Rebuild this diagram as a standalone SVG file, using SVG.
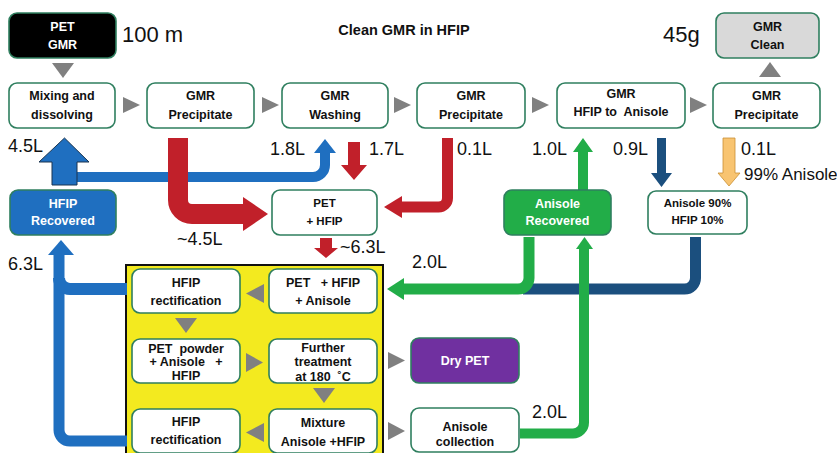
<svg xmlns="http://www.w3.org/2000/svg" width="837" height="453" viewBox="0 0 837 453">
<style>
.box{fill:#fff;stroke:#2f7f5f;stroke-width:1.6}
.t{font-family:"Liberation Sans",Arial,sans-serif;font-weight:bold;font-size:12.5px;text-anchor:middle;fill:#111}
.w{fill:#fff}
.lab{font-family:"Liberation Sans",Arial,sans-serif;font-size:18px;fill:#111}
.tri{fill:#808080}
.red{fill:#c1202a}
.blue{fill:#1f6fc0}
</style>
<rect width="837" height="453" fill="#fff"/>

<text x="404" y="35" class="t" style="font-size:14.5px">Clean GMR in HFIP</text>
<text x="122" y="42" class="lab" style="font-size:22px">100 m</text>
<text x="663" y="42" class="lab" style="font-size:22px">45g</text>

<!-- yellow panel -->
<rect id="panel" x="126" y="265" width="257" height="200" fill="#f3ea1f" stroke="#111" stroke-width="2"/>

<!-- connectors -->
<g id="connectors">
  <polygon class="tri" points="52,63 74,63 63,78"/>
  <polygon class="tri" points="123,97 123,113 140,105"/>
  <polygon class="tri" points="262,97 262,113 279,105"/>
  <polygon class="tri" points="394,97 394,113 411,105"/>
  <polygon class="tri" points="532,97 532,113 549,105"/>
  <polygon class="tri" points="690,97 690,113 707,105"/>
  <polygon class="tri" points="759,77 781,77 770,62"/>
  <polygon class="tri" points="264,284 264,303 246,293.5"/>
  <polygon class="tri" points="175,318 197,318 186,333"/>
  <polygon class="tri" points="246,353 246,372 263,362.5"/>
  <polygon class="tri" points="313,388 335,388 324,403"/>
  <polygon class="tri" points="264,423 264,442 246,432.5"/>
  <polygon class="tri" points="388,352 388,369 405,360.5"/>
  <polygon class="tri" points="388,422 388,440 405,431"/>

  <!-- blue HFIP recovered -> mixing and washing -->
  <path d="M77,177 H313 A12 12 0 0 0 325 165 V151" fill="none" stroke="#1f6fc0" stroke-width="10"/>
  <polygon class="blue" points="314,153 325,139 336,153"/>
  <polygon class="blue" stroke="#1b3550" stroke-width="1" points="52,185 52,162 39,162 64.5,138 89,162 77,162 77,185"/>

  <!-- red big arrow -->
  <path d="M178,138 V200 A14 14 0 0 0 192 214 H245" fill="none" stroke="#c1202a" stroke-width="20"/>
  <polygon class="red" points="243,197 268,214 243,231"/>

  <!-- red 1.7L -->
  <path class="red" d="M348,142 H360 V165 H367 L354,180 L341,165 H348 Z"/>
  <!-- red 0.1L -->
  <path d="M447.5,138 V198 A9 9 0 0 1 438.5 207 H400" fill="none" stroke="#c1202a" stroke-width="11"/>
  <polygon class="red" points="402,196 384,207 402,218"/>
  <!-- red ~6.3L -->
  <path class="red" d="M320,238 H332 V248 H338 L326,258 L314,248 H320 Z"/>

  <!-- green 1.0L -->
  <path d="M578,190 V152 H573 L583,138 L593,152 H588 V190 Z" fill="#22ad48"/>
  <!-- navy 0.9L -->
  <path d="M657,138 H666 V173 H672 L661.5,187 L651,173 H657 Z" fill="#1b4f7e"/>
  <!-- orange 0.1L -->
  <path d="M723,138 H735 V173 H740 L729,186 L718,173 H723 Z" fill="#f8c471" stroke="#c99035" stroke-width="0.8"/>

  <!-- navy band -->
  <path d="M695.5,237 V278 A11 11 0 0 1 684.5 289 H523" fill="none" stroke="#1b4f7e" stroke-width="11"/>
  <!-- green 2.0L to panel -->
  <path d="M529,237 V278 A11 11 0 0 1 518 289 H402" fill="none" stroke="#22ad48" stroke-width="11"/>
  <polygon points="404,278 387,289 404,300" fill="#22ad48"/>
  <!-- green collection -> recovered -->
  <path d="M520,433.5 H573 A11 11 0 0 0 584 422.5 V248" fill="none" stroke="#22ad48" stroke-width="10"/>
  <polygon points="576,249 584.5,237 593,249" fill="#22ad48"/>

  <!-- blue 6.3L -->
  <path d="M127,441 H70 A11 11 0 0 1 59 430 V254" fill="none" stroke="#1f6fc0" stroke-width="11"/>
  <path d="M127,289 H70 A11 11 0 0 1 59 278" fill="none" stroke="#1f6fc0" stroke-width="12"/>
  <polygon class="blue" points="48,255 61,240 74,255"/>
</g>

<!-- labels -->
<g id="labels">
  <text x="8" y="152" class="lab">4.5L</text>
  <text x="270" y="155" class="lab">1.8L</text>
  <text x="369" y="155" class="lab">1.7L</text>
  <text x="457" y="155" class="lab">0.1L</text>
  <text x="532" y="155" class="lab">1.0L</text>
  <text x="613" y="155" class="lab">0.9L</text>
  <text x="741" y="155" class="lab">0.1L</text>
  <text x="744" y="180" class="lab" style="font-size:17px">99% Anisole</text>
  <text x="177" y="245" class="lab">~4.5L</text>
  <text x="340" y="253" class="lab">~6.3L</text>
  <text x="8" y="270" class="lab">6.3L</text>
  <text x="412" y="268" class="lab">2.0L</text>
  <text x="532" y="418" class="lab">2.0L</text>
</g>

<g id="pet-gmr">
  <rect x="9" y="13" width="107" height="45" rx="8" fill="#000" stroke="#2f7f5f" stroke-width="1.6"/>
  <text x="62.5" y="31" class="t w">PET</text>
  <text x="62.5" y="49" class="t w">GMR</text>
</g>
<g id="gmr-clean">
  <rect x="716" y="13" width="103" height="45" rx="8" fill="#d9d9d9" stroke="#2f7f5f" stroke-width="1.6"/>
  <text x="767.5" y="31" class="t">GMR</text>
  <text x="767.5" y="49" class="t">Clean</text>
</g>
<g id="mixing">
  <rect class="box" x="9" y="83" width="106" height="45" rx="8"/>
  <text x="62" y="100" class="t">Mixing and</text>
  <text x="62" y="119" class="t">dissolving</text>
</g>
<g id="precip1">
  <rect class="box" x="147" y="83" width="107" height="45" rx="8"/>
  <text x="200.5" y="100" class="t">GMR</text>
  <text x="200.5" y="119" class="t">Precipitate</text>
</g>
<g id="washing">
  <rect class="box" x="282" y="83" width="106" height="45" rx="8"/>
  <text x="335" y="100" class="t">GMR</text>
  <text x="335" y="119" class="t">Washing</text>
</g>
<g id="precip2">
  <rect class="box" x="417" y="83" width="108" height="45" rx="8"/>
  <text x="471" y="100" class="t">GMR</text>
  <text x="471" y="119" class="t">Precipitate</text>
</g>
<g id="hfip-anisole">
  <rect class="box" x="557" y="83" width="128" height="45" rx="8"/>
  <text x="621" y="98" class="t">GMR</text>
  <text x="621" y="116" class="t" xml:space="preserve">HFIP to  Anisole</text>
</g>
<g id="precip3">
  <rect class="box" x="713" y="83" width="107" height="45" rx="8"/>
  <text x="766.5" y="100" class="t">GMR</text>
  <text x="766.5" y="119" class="t">Precipitate</text>
</g>
<g id="hfip-recovered">
  <rect x="10" y="190" width="106" height="45" rx="8" fill="#1f6fc0" stroke="#2f7f5f" stroke-width="1.6"/>
  <text x="63" y="208" class="t w">HFIP</text>
  <text x="63" y="225" class="t w">Recovered</text>
</g>
<g id="pet-hfip">
  <rect class="box" x="272" y="190" width="105" height="45" rx="8"/>
  <text x="324.5" y="207" class="t" style="font-size:11.5px">PET</text>
  <text x="324.5" y="225" class="t" style="font-size:11.5px">+ HFIP</text>
</g>
<g id="anisole-recovered">
  <rect x="504" y="190" width="107" height="45" rx="8" fill="#22ad48" stroke="#2f7f5f" stroke-width="1.6"/>
  <text x="557.5" y="208" class="t w">Anisole</text>
  <text x="557.5" y="225" class="t w">Recovered</text>
</g>
<g id="anisole90">
  <rect class="box" x="648" y="191" width="99" height="43" rx="8"/>
  <text x="697.5" y="207" class="t" style="font-size:11.5px">Anisole 90%</text>
  <text x="697.5" y="224" class="t" style="font-size:11.5px">HFIP 10%</text>
</g>
<g id="rect1">
  <rect class="box" x="132" y="269" width="108" height="44" rx="8"/>
  <text x="186" y="287" class="t">HFIP</text>
  <text x="186" y="305" class="t">rectification</text>
</g>
<g id="pet-hfip-anisole">
  <rect class="box" x="269" y="269" width="108" height="44" rx="8"/>
  <text x="323" y="287" class="t" xml:space="preserve">PET   + HFIP</text>
  <text x="323" y="305" class="t">+ Anisole</text>
</g>
<g id="pet-powder">
  <rect class="box" x="132" y="339" width="108" height="44" rx="8"/>
  <text x="186" y="353" class="t" xml:space="preserve">PET  powder</text>
  <text x="186" y="366" class="t" xml:space="preserve">+ Anisole   +</text>
  <text x="186" y="380" class="t">HFIP</text>
</g>
<g id="further">
  <rect class="box" x="269" y="339" width="108" height="44" rx="8"/>
  <text x="323" y="352" class="t">Further</text>
  <text x="323" y="366" class="t">treatment</text>
  <text x="323" y="381" class="t" xml:space="preserve">at 180  ˚C</text>
</g>
<g id="rect2">
  <rect class="box" x="132" y="409" width="108" height="44" rx="8"/>
  <text x="186" y="426" class="t">HFIP</text>
  <text x="186" y="444" class="t">rectification</text>
</g>
<g id="mixture">
  <rect class="box" x="269" y="409" width="108" height="44" rx="8"/>
  <text x="323" y="427" class="t">Mixture</text>
  <text x="323" y="446" class="t">Anisole +HFIP</text>
</g>
<g id="dry-pet">
  <rect x="411" y="338" width="108" height="45" rx="8" fill="#7030a0" stroke="#2f7f5f" stroke-width="1.6"/>
  <text x="465" y="365" class="t w">Dry PET</text>
</g>
<g id="anisole-collection">
  <rect class="box" x="411" y="408" width="108" height="44" rx="8"/>
  <text x="465" y="431" class="t">Anisole</text>
  <text x="465" y="446" class="t">collection</text>
</g>
</svg>
